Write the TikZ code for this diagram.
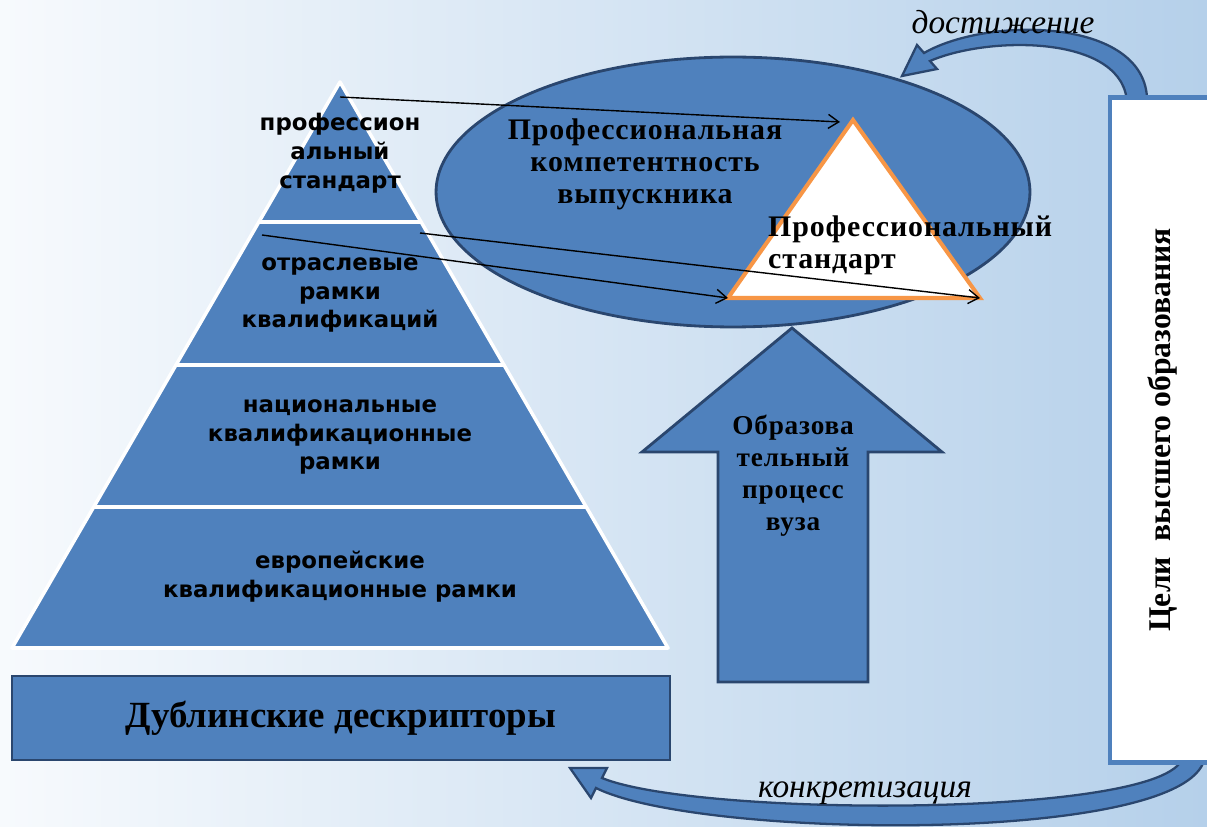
\documentclass[tikz,border=0pt]{standalone}
\usepackage{fontspec}
\setmainfont{Liberation Serif}
\newfontfamily\spacedserif[LetterSpace=3]{Liberation Serif}
\newfontfamily\pyrfont{DejaVu Sans}
\usetikzlibrary{arrows.meta,shapes.geometric}

\definecolor{boxblue}{HTML}{4F81BD}
\definecolor{edgeblue}{HTML}{2A466E}
\definecolor{bgleft}{HTML}{F7FAFD}
\definecolor{bgright}{HTML}{B5D0EA}
\definecolor{stdorange}{HTML}{F79646}

\begin{document}
\begin{tikzpicture}[x=0.02cm, y=-0.02cm,
    tier/.style={fill=boxblue, draw=white, line width=2pt, line join=round},
    tiertext/.style={font=\pyrfont\bfseries\fontsize{13}{16.4}\selectfont, align=center},
    boldtext/.style={font=\spacedserif\bfseries\fontsize{17}{18.2}\selectfont, align=center},
    itallabel/.style={font=\itshape\fontsize{19}{22}\selectfont},
    bluebody/.style={fill=boxblue, draw=edgeblue, line width=1.6pt},
    link/.style={-{Straight Barb[length=6pt,width=8pt]}, line width=0.8pt}]

    % --- Background (1207 x 827) ---
    \useasboundingbox (0,0) rectangle (1207,827);
    \clip (0,0) rectangle (1207,827);
    \shade[left color=bgleft, right color=bgright] (0,0) rectangle (1207,827);

    % --- Coordinates ---
    % Apex of the pyramid at (340,82), base from 12 to 668 at y = 648
    \coordinate (stdtop) at (853,120);
    \coordinate (stdleft) at (728,298);
    \coordinate (stdright) at (980,298);
    \coordinate (topfrom) at (340,97);
    \coordinate (toptip) at (840,122);
    \coordinate (branchfrom) at (262,235);
    \coordinate (branchfrom2) at (420,233);

    % --- Pyramid of qualifications ---
    \foreach \yt/\yb in {82/222,222/365,365/507,507/648}
        \filldraw[tier] ({340-0.5795*(\yt-82)},\yt) -- ({340+0.5795*(\yt-82)},\yt)
            -- ({340+0.5795*(\yb-82)},\yb) -- ({340-0.5795*(\yb-82)},\yb) -- cycle;

    \node[tiertext] (profstd) at (340,153) {профессион\\альный\\стандарт};
    \node[tiertext] (branch) at (340,295) {отраслевые\\рамки\\квалификаций};
    \node[tiertext] (national) at (340,437) {национальные\\квалификационные\\рамки};
    \node[tiertext] (european) at (340,577) {европейские\\квалификационные рамки};

    % --- Dublin descriptors ---
    \node[bluebody, minimum width=13.16cm, minimum height=1.68cm,
        font=\bfseries\fontsize{21}{24}\selectfont] (dublin) at (341,718) {Дублинские дескрипторы};

    % --- Graduate competence ---
    \node[ellipse, bluebody, minimum width=11.88cm, minimum height=5.4cm] (competence) at (733,192) {};
    \filldraw[fill=white, draw=stdorange, line width=2.3pt] (stdtop) -- (stdright) -- (stdleft) -- cycle;
    \node[boldtext] (gradcomp) at (645,164) {Профессиональная\\компетентность\\выпускника};
    \node[boldtext, anchor=west, align=left] (stdlabel) at (762,245) {Профессиональный\\стандарт};

    % --- Educational process (block arrow) ---
    \filldraw[bluebody] (718,682) -- (718,452) -- (642,452) -- (792,328) -- (942,452)
        -- (868,452) -- (868,682) -- cycle;
    \node[boldtext, font=\spacedserif\bfseries\fontsize{15.5}{18.2}\selectfont] (process) at (793,476) {Образова\\тельный\\процесс\\вуза};

    % --- Curved arrows ---
    \filldraw[bluebody, line width=1.3pt] (1147,105) .. controls (1152,18) and (990,15) .. (924,53)
        -- (917,45) -- (902,76) -- (937,69) -- (930,61) .. controls (990,35) and (1127,35) .. (1127,105) -- cycle;
    \filldraw[bluebody, line width=1.3pt] (1205,755) .. controls (1200,845) and (700,840) .. (596,788)
        -- (591,798) -- (570,768) -- (607,768) -- (602,778) .. controls (700,818) and (1180,818) .. (1183,755) -- cycle;
    \node[itallabel] (reach) at (1003,22) {достижение};
    \node[itallabel] (concrete) at (865,793) {конкретизация};

    % --- Goals of higher education ---
    \node[draw=boxblue, fill=white, line width=2.5pt, rotate=90, minimum width=13.3cm, minimum height=2.12cm,
        font=\bfseries\fontsize{18}{22}\selectfont] (goals) at (1163,430) {Цели\ \ высшего образования};

    % --- Links from the pyramid ---
    \draw[link] (topfrom) -- (toptip);
    \draw[link] (branchfrom) -- (stdleft);
    \draw[link] (branchfrom2) -- (stdright);

\end{tikzpicture}
\end{document}
